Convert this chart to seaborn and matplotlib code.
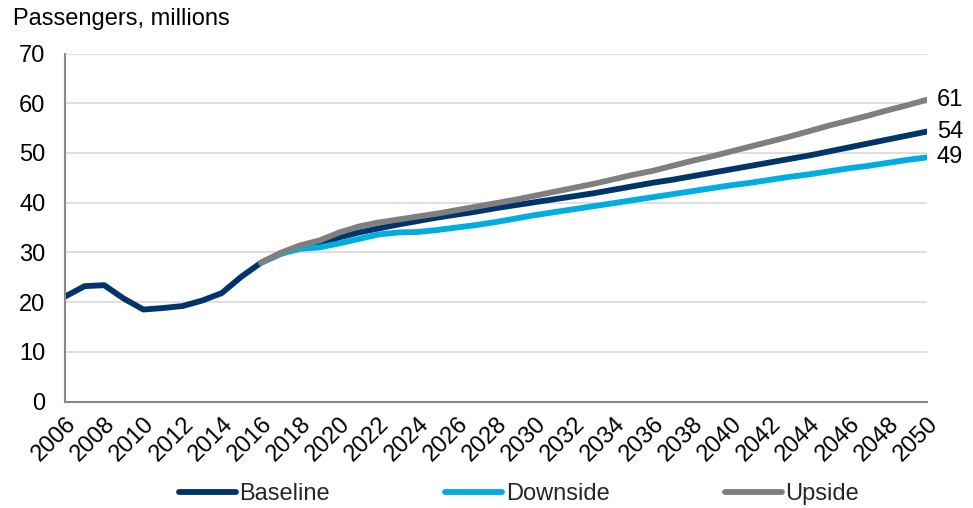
import numpy as np
import pandas as pd
import matplotlib
matplotlib.use("Agg")
import matplotlib.pyplot as plt
from matplotlib.ticker import MultipleLocator
import seaborn as sns

# Passenger numbers (millions)
hist_years = list(range(2006, 2016))
hist_values = [21.1, 23.2, 23.4, 20.7, 18.5, 18.8, 19.2, 20.3, 21.8, 25.1]

proj_years = list(range(2016, 2051))
baseline = [27.9, 29.7, 31.0, 31.8, 33.0, 34.0, 34.8, 35.6, 36.3, 37.0,
            37.6, 38.2, 38.9, 39.5, 40.1, 40.7, 41.3, 41.9, 42.6, 43.3,
            44.0, 44.6, 45.3, 46.0, 46.7, 47.4, 48.1, 48.8, 49.5, 50.3,
            51.1, 51.9, 52.7, 53.5, 54.3]
downside = [27.9, 29.7, 30.7, 31.0, 31.8, 32.7, 33.6, 34.0, 34.1, 34.5,
            35.0, 35.5, 36.1, 36.8, 37.5, 38.1, 38.7, 39.3, 39.9, 40.5,
            41.1, 41.7, 42.3, 42.9, 43.5, 44.0, 44.6, 45.2, 45.7, 46.3,
            46.9, 47.4, 48.0, 48.6, 49.1]
upside = [27.9, 29.9, 31.4, 32.4, 34.0, 35.2, 36.0, 36.6, 37.2, 37.8,
          38.5, 39.2, 39.9, 40.6, 41.4, 42.2, 43.0, 43.8, 44.7, 45.6,
          46.4, 47.4, 48.4, 49.3, 50.3, 51.3, 52.3, 53.3, 54.4, 55.5,
          56.5, 57.5, 58.6, 59.6, 60.7]

series_names = ["Baseline", "Downside", "Upside"]
colors = {"Baseline": "#00356B", "Downside": "#00ADE0", "Upside": "#7F7F7F"}

rows = []
for y, v in zip(hist_years, hist_values):
    rows.append(("Baseline", y, v))
for name, vals in zip(series_names, [baseline, downside, upside]):
    for y, v in zip(proj_years, vals):
        rows.append((name, y, v))
df = pd.DataFrame(rows, columns=["scenario", "year", "passengers"])

sns.set_theme(style="white")
plt.rcParams["font.family"] = ["Liberation Sans", "DejaVu Sans"]

FS = 17

fig = plt.figure(figsize=(9.73, 5.08), dpi=100)
ax = fig.add_axes([65 / 973, 1 - 401.5 / 508, (927 - 65) / 973, (401.5 - 53.5) / 508])

for name in series_names:
    sub = df[df["scenario"] == name]
    sns.lineplot(data=sub, x="year", y="passengers", ax=ax, color=colors[name],
                 linewidth=4.2, label=name, solid_capstyle="round",
                 solid_joinstyle="round")

ax.set_xlim(2006, 2050)
ax.set_ylim(0, 70)
ax.yaxis.set_major_locator(MultipleLocator(10))
ax.xaxis.set_major_locator(MultipleLocator(2))
ax.xaxis.set_minor_locator(MultipleLocator(1))
ax.grid(axis="y", color="#D9D9D9", linewidth=1.2)
ax.grid(axis="x", visible=False)
ax.set_axisbelow(True)

for side in ["top", "right"]:
    ax.spines[side].set_visible(False)
for side in ["left", "bottom"]:
    ax.spines[side].set_color("#898989")
    ax.spines[side].set_linewidth(1.5)

ax.tick_params(axis="both", which="both", direction="out", color="#898989",
               width=1.5, length=5, labelsize=FS, labelcolor="black")
ax.tick_params(axis="y", pad=9)
ax.tick_params(axis="x", pad=3)
plt.setp(ax.get_xticklabels(), rotation=45, ha="right", rotation_mode="anchor")
ax.set_xlabel("")
ax.set_ylabel("")

# End-of-series value labels
for name, vals in zip(series_names, [baseline, downside, upside]):
    ax.annotate(f"{vals[-1]:.0f}", xy=(proj_years[-1], vals[-1]),
                xytext=(7, 0), textcoords="offset points",
                va="center", ha="left", fontsize=FS, color="black",
                annotation_clip=False)

fig.text(13 / 973, 1 - 19 / 508, "Passengers, millions", fontsize=FS,
         va="center", ha="left", color="black")

ax.get_legend().remove()
handles, labels = ax.get_legend_handles_labels()
fig.legend(handles, labels, loc="center", bbox_to_anchor=(519 / 973, 1 - 494 / 508),
           ncol=3, frameon=False, fontsize=FS, handlelength=2.4,
           handletextpad=0.15, columnspacing=4.9, borderpad=0)

fig.savefig("out.png", dpi=100)
